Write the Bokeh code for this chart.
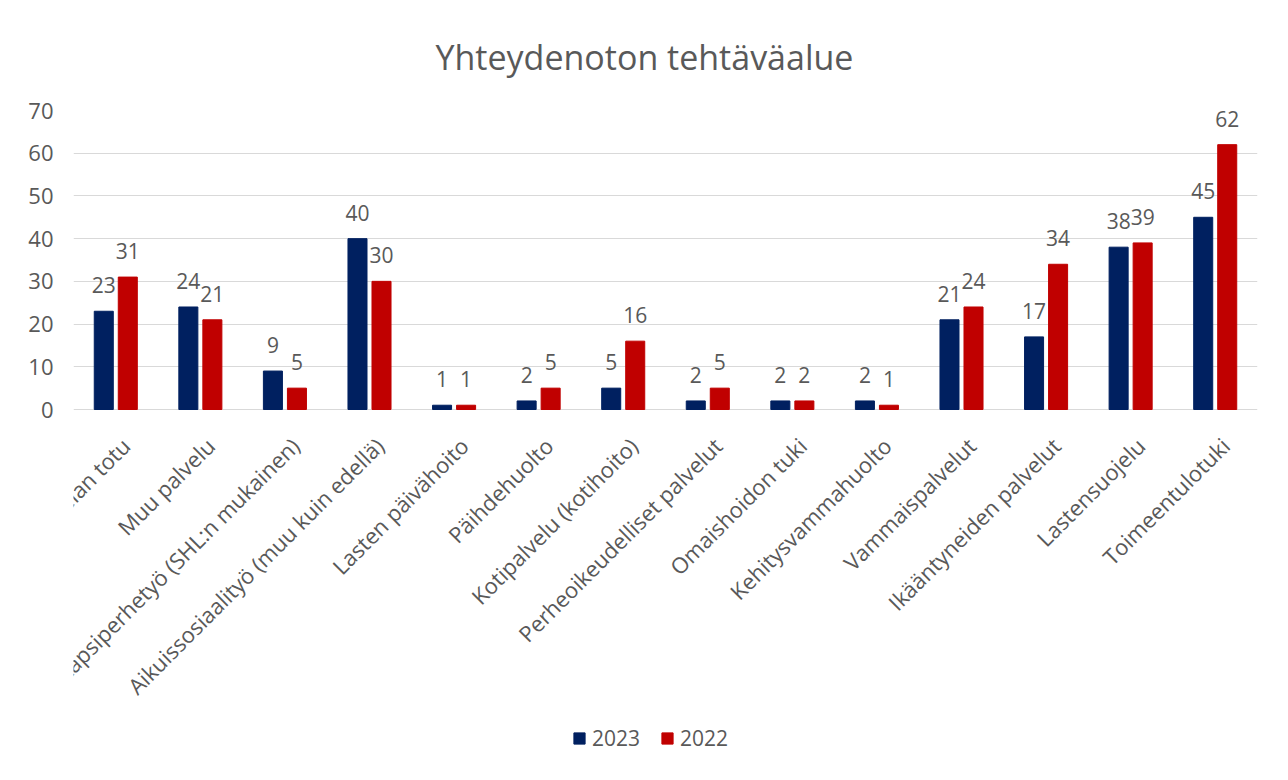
import math
from bokeh.plotting import figure
from bokeh.models import FactorRange, Range1d, ColumnDataSource, LabelSet, Legend, LegendItem
from bokeh.transform import dodge
from bokeh.core.properties import value
from bokeh.embed import file_html
from bokeh.resources import INLINE

categories = ["Kelan totu", "Muu palvelu", "Lapsiperhetyö (SHL:n mukainen)",
              "Aikuissosiaalityö (muu kuin edellä)", "Lasten päivähoito", "Päihdehuolto",
              "Kotipalvelu (kotihoito)", "Perheoikeudelliset palvelut", "Omaishoidon tuki",
              "Kehitysvammahuolto", "Vammaispalvelut", "Ikääntyneiden palvelut",
              "Lastensuojelu", "Toimeentulotuki"]
values_2023 = [23, 24, 9, 40, 1, 2, 5, 2, 2, 2, 21, 17, 38, 45]
values_2022 = [31, 21, 5, 30, 1, 5, 16, 5, 2, 1, 24, 34, 39, 62]
y_ticks = [0, 10, 20, 30, 40, 50, 60, 70]
title_text = "Yhteydenoton tehtäväalue"

FONT = "Open Sans"
GRAY = "#595959"
NAVY = "#002060"
RED = "#C00000"

# layout (pixels): value area 299 px tall for 0..70, 353 px below it for labels/legend
PLOT_H = 299
BELOW_H = 353
y_start = -70 * BELOW_H / PLOT_H

src = ColumnDataSource(dict(cat=categories, v23=values_2023, v22=values_2022,
                            t23=[str(v) for v in values_2023],
                            t22=[str(v) for v in values_2022],
                            zero=[0] * len(categories)))

p = figure(x_range=FactorRange(*categories), y_range=Range1d(y_start, 70),
           width=1270, height=762, output_backend="svg", toolbar_location=None,
           x_axis_location=None,
           min_border_left=73, min_border_right=13, min_border_top=110, min_border_bottom=0,
           frame_width=1184, frame_height=PLOT_H + BELOW_H, title=title_text)
p.outline_line_color = None
p.background_fill_color = "white"
p.border_fill_color = "white"

p.title.align = "left"
p.title.text_font = FONT
p.title.text_font_size = "34px"
p.title.text_font_style = "normal"
p.title.text_color = GRAY
p.title.standoff = 62
p.title.offset = 362

r23 = p.vbar(x=dodge("cat", -0.142, range=p.x_range), top="v23", width=0.225, bottom=0,
             source=src, fill_color=NAVY, line_color=NAVY)
r22 = p.vbar(x=dodge("cat", 0.142, range=p.x_range), top="v22", width=0.225, bottom=0,
             source=src, fill_color=RED, line_color=RED)

for col, off in (("t23", -0.142), ("t22", 0.142)):
    ls = LabelSet(x=dodge("cat", off, range=p.x_range), y=col.replace("t", "v"), text=col,
                  source=src, text_align="center", text_baseline="alphabetic", y_offset=18,
                  text_font=value(FONT), text_font_size="21px", text_color=GRAY)
    p.add_layout(ls)

# category labels, rotated 45 degrees, ending under each category
cat_labels = LabelSet(x="cat", y="zero", text="cat", source=src, angle=math.pi / 4,
                      text_align="right", text_baseline="middle", x_offset=10, y_offset=-32,
                      text_font=value(FONT), text_font_size="22px", text_color=GRAY)
p.add_layout(cat_labels)

# y axis
p.yaxis.ticker = y_ticks
p.yaxis.axis_line_color = None
p.yaxis.major_tick_line_color = None
p.yaxis.minor_tick_line_color = None
p.yaxis.major_label_text_font = FONT
p.yaxis.major_label_text_font_size = "22px"
p.yaxis.major_label_text_color = GRAY
p.yaxis.major_label_standoff = 14

p.xgrid.grid_line_color = None
p.ygrid.ticker = y_ticks
p.ygrid.grid_line_color = "#D9D9D9"
p.ygrid.grid_line_width = 1

legend = Legend(items=[LegendItem(label="2023", renderers=[r23]),
                       LegendItem(label="2022", renderers=[r22])],
                orientation="horizontal", location=(499, 10),
                glyph_width=14, glyph_height=14, label_standoff=6, spacing=20,
                padding=0, margin=0, border_line_color=None, background_fill_alpha=0,
                label_text_font=FONT, label_text_font_size="21px", label_text_color=GRAY,
                label_height=14)
p.add_layout(legend)

open("out.html", "w").write(file_html(p, INLINE))
